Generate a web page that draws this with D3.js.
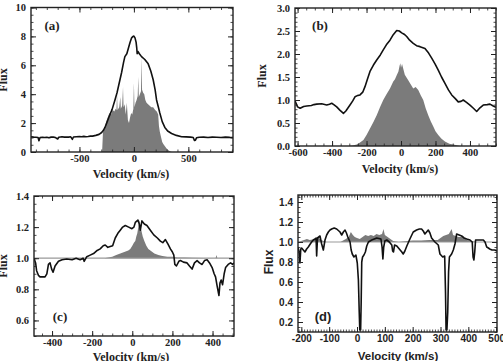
<!DOCTYPE html>
<html>
<head>
<meta charset="utf-8">
<script src="https://cdn.jsdelivr.net/npm/d3@7"></script>
<style>
body { margin: 0; background: #fff; }
svg { display: block; }
.serif text { font-family: "Liberation Serif", "Times New Roman", serif; font-weight: bold; }
.sans text { font-family: "Liberation Sans", Arial, sans-serif; font-weight: bold; }
</style>
</head>
<body>
<svg id="fig" width="503" height="361"></svg>
<script>
// (a) spectrum and model histogram, [velocity, flux]
const aLine = [[-945,1.05],[-920,1.03],[-900,1.02],[-880,1.0],[-872,0.78],[-862,1.0],[-840,1.02],[-820,1.0],[-800,1.02],[-780,0.98],[-760,1.03],[-740,1.03],[-720,1.0],[-700,0.9],[-690,1.02],[-660,1.05],[-640,1.03],[-620,1.04],[-600,1.03],[-580,1.05],[-565,0.88],[-555,1.04],[-530,1.06],[-500,1.07],[-480,1.06],[-460,1.08],[-440,1.06],[-420,1.07],[-400,1.1],[-380,1.1],[-350,1.15],[-320,1.22],[-296,1.35],[-280,1.5],[-266,1.7],[-250,2.0],[-230,2.4],[-200,2.95],[-174,3.6],[-155,4.1],[-140,4.6],[-113,5.5],[-95,6.2],[-83,6.6],[-65,6.8],[-50,7.2],[-35,7.6],[-21,7.9],[-8,8.0],[0,8.02],[10,7.9],[20,7.6],[26,7.2],[30,6.8],[38,6.95],[50,6.8],[70,6.6],[100,6.4],[131,6.1],[155,5.6],[177,5.0],[195,4.3],[208,3.6],[225,3.1],[238,2.7],[260,2.1],[284,1.7],[310,1.45],[346,1.28],[390,1.15],[438,1.06],[480,1.05],[520,1.03],[545,1.0],[556,0.8],[565,0.82],[575,0.98],[600,1.02],[640,1.03],[680,1.0],[720,1.03],[760,1.02],[800,1.0],[840,1.03],[880,1.01],[910,1.0]];
const aHist = [[-292,0],[-284,1.4],[-270,1.6],[-255,2.1],[-240,2.4],[-225,2.7],[-210,2.6],[-195,2.9],[-180,2.8],[-168,3.0],[-160,2.9],[-155,4.0],[-150,2.9],[-135,3.1],[-125,3.8],[-120,3.0],[-108,3.2],[-100,4.5],[-95,3.1],[-85,3.3],[-75,2.6],[-65,3.4],[-55,2.2],[-45,2.0],[-35,2.4],[-25,2.7],[-15,2.6],[-5,3.0],[0,4.8],[5,3.1],[15,3.4],[25,3.6],[35,3.9],[40,5.2],[45,3.8],[55,4.0],[65,4.2],[70,6.6],[75,4.3],[85,4.1],[95,4.0],[105,3.6],[116,3.4],[130,3.3],[145,3.2],[160,3.1],[177,3.1],[195,2.9],[210,2.8],[223,2.6],[230,1.8],[238,1.4],[250,1.0],[260,0.7],[270,0.55],[285,0.4],[300,0.25],[320,0.1],[340,0.02],[350,0]];

// (b)
const bLine = [[-615,0.98],[-600,0.85],[-585,0.82],[-565,0.86],[-547,0.87],[-520,0.88],[-505,0.9],[-489,0.91],[-460,0.92],[-431,0.89],[-415,0.91],[-402,0.93],[-390,0.9],[-373,0.85],[-355,0.78],[-334,0.71],[-320,0.76],[-296,0.89],[-280,0.98],[-267,1.07],[-250,1.1],[-238,1.11],[-222,1.17],[-209,1.29],[-195,1.45],[-180,1.62],[-160,1.76],[-141,1.87],[-120,1.98],[-103,2.09],[-85,2.2],[-64,2.3],[-45,2.42],[-25,2.51],[-10,2.5],[4,2.46],[18,2.43],[33,2.38],[50,2.3],[71,2.23],[90,2.18],[110,2.16],[139,2.12],[160,2.02],[178,1.91],[198,1.78],[216,1.65],[235,1.5],[255,1.36],[275,1.22],[294,1.11],[315,1.03],[332,0.96],[348,0.97],[361,1.0],[380,0.95],[400,0.89],[420,0.82],[439,0.75],[458,0.83],[477,0.89],[500,0.9],[516,0.91],[535,0.87],[551,0.84]];
const bHist = [[-300,0],[-280,0.01],[-257,0.03],[-240,0.07],[-218,0.13],[-200,0.24],[-180,0.38],[-160,0.52],[-141,0.67],[-122,0.84],[-103,1.0],[-85,1.12],[-64,1.25],[-45,1.4],[-35,1.45],[-25,1.54],[-15,1.62],[-8,1.75],[-4,1.8],[0,1.7],[6,1.78],[13,1.68],[22,1.55],[30,1.5],[42,1.43],[55,1.35],[71,1.25],[85,1.28],[100,1.22],[115,1.1],[129,1.0],[143,0.82],[158,0.67],[173,0.53],[188,0.42],[200,0.32],[216,0.24],[235,0.16],[255,0.1],[280,0.05],[304,0.03],[342,0]];

// (c)
const cLine = [[-490,1.0],[-482,0.97],[-477,0.92],[-468,0.89],[-460,0.88],[-448,0.88],[-435,0.88],[-426,0.9],[-418,0.96],[-410,0.97],[-402,0.93],[-395,0.91],[-385,0.95],[-368,0.98],[-350,0.99],[-327,0.995],[-300,0.99],[-280,1.0],[-260,0.99],[-245,1.0],[-240,0.98],[-227,1.01],[-210,1.02],[-193,1.03],[-175,1.05],[-160,1.06],[-145,1.08],[-135,1.085],[-122,1.07],[-110,1.075],[-98,1.08],[-85,1.13],[-72,1.16],[-60,1.18],[-48,1.2],[-35,1.21],[-18,1.2],[-2,1.19],[8,1.2],[15,1.23],[28,1.245],[35,1.22],[40,1.18],[48,1.24],[60,1.22],[73,1.21],[90,1.18],[107,1.15],[125,1.13],[140,1.11],[152,1.1],[165,1.12],[178,1.09],[190,1.06],[200,1.04],[207,1.02],[212,0.96],[220,0.95],[232,0.98],[240,0.985],[255,0.975],[273,0.97],[285,0.95],[298,0.93],[310,0.97],[323,0.985],[335,0.97],[348,0.96],[360,0.985],[373,0.99],[385,0.97],[398,0.94],[408,0.9],[415,0.88],[423,0.82],[432,0.76],[437,0.84],[443,0.86],[450,0.83],[458,0.9],[465,0.94],[478,0.96],[490,0.97],[500,0.96],[507,0.97]];
const cHist = [[-140,1.0],[-120,1.005],[-100,1.01],[-80,1.02],[-60,1.03],[-40,1.04],[-20,1.05],[-10,1.06],[0,1.08],[8,1.1],[15,1.11],[20,1.14],[25,1.16],[30,1.2],[35,1.245],[40,1.2],[45,1.18],[52,1.14],[60,1.11],[70,1.08],[80,1.06],[95,1.045],[110,1.03],[130,1.02],[150,1.015],[175,1.01],[200,1.01],[225,1.005],[260,1.005],[300,1.003],[415,1.0],[420,1.02],[424,1.0],[460,1.0]];

// (d)
const dLine = [[-212,0.95],[-208,0.9],[-205,0.79],[-202,0.93],[-199,0.94],[-193,0.92],[-187,0.9],[-181,0.93],[-175,0.95],[-168,0.98],[-163,1.0],[-157,1.02],[-151,1.03],[-147,1.04],[-145,0.86],[-142,1.04],[-133,1.06],[-127,0.98],[-121,0.92],[-115,1.02],[-109,1.07],[-103,1.1],[-97,1.12],[-91,1.13],[-82,1.14],[-73,1.13],[-65,1.11],[-61,1.1],[-55,1.07],[-49,1.1],[-43,1.12],[-38,1.09],[-33,1.05],[-25,1.0],[-21,0.92],[-17,0.88],[-11,0.85],[-4,0.87],[1,0.79],[5,0.62],[8,0.3],[10,0.12],[13,0.12],[15,0.4],[17,0.8],[20,0.85],[25,0.87],[30,0.9],[35,0.96],[41,1.0],[53,1.02],[71,1.04],[86,1.03],[90,0.95],[93,0.83],[96,0.95],[100,1.01],[107,1.02],[116,1.0],[125,0.97],[128,0.91],[131,0.9],[135,0.97],[143,0.96],[152,0.93],[161,0.9],[166,0.88],[172,0.91],[179,0.96],[190,1.03],[202,1.1],[214,1.12],[224,1.13],[232,1.13],[238,1.11],[244,1.08],[250,1.1],[256,1.12],[262,1.09],[268,1.04],[280,1.0],[292,0.97],[298,0.88],[308,0.85],[315,0.86],[318,0.5],[320,0.12],[323,0.12],[326,0.3],[329,0.7],[332,0.85],[340,0.88],[346,0.92],[352,0.98],[358,1.08],[367,1.07],[376,1.06],[385,1.04],[394,1.03],[406,1.02],[414,1.0],[417,0.85],[420,0.82],[423,0.9],[426,1.02],[440,1.02],[454,1.02],[460,1.0],[466,0.95],[472,0.94],[477,0.93],[485,0.92],[495,0.92],[503,0.91]];
const dHist = [[-212,1.0],[-190,1.02],[-180,1.03],[-170,1.02],[-150,1.03],[-140,1.05],[-130,1.02],[-110,1.0],[-60,1.0],[-40,1.03],[-30,1.05],[-22,1.1],[-15,1.07],[-8,1.05],[0,1.04],[10,1.03],[20,1.05],[30,1.07],[40,1.06],[50,1.07],[60,1.06],[70,1.08],[80,1.07],[90,1.08],[95,1.13],[100,1.07],[110,1.05],[120,1.03],[130,1.01],[150,1.0],[180,1.01],[200,1.015],[230,1.015],[260,1.02],[290,1.02],[300,1.04],[310,1.06],[320,1.07],[330,1.08],[340,1.13],[345,1.07],[355,1.06],[365,1.05],[375,1.05],[385,1.04],[395,1.02],[410,1.01],[430,1.0],[503,1.0]];

// tick labels
const aXTicks = [-500, 0, 500], aYTicks = [0, 2, 4, 6, 8, 10];
const bXTicks = [-600, -400, -200, 0, 200, 400], bYTicks = [0, 0.5, 1, 1.5, 2, 2.5, 3];
const cXTicks = [-400, -200, 0, 200, 400], cYTicks = [0.6, 0.8, 1.0, 1.2, 1.4];
const dXTicks = [-200, -100, 0, 100, 200, 300, 400, 500], dYTicks = [0.2, 0.4, 0.6, 0.8, 1.0, 1.2, 1.4];

const svg = d3.select('#fig')
const grey = '#7b7b7b'

const panels = [
	{ name: '(a)', line: aLine, hist: aHist, base: 0, xd: [-945, 910], yd: [0, 10], box: [31, 7.5, 233, 152],
		xt: aXTicks, yt: aYTicks, xm: 100, ym: 0.5, yf: d3.format('d'), font: 'serif', lab: [52, 30], flux: [7, 80], vel: [131, 178] },
	{ name: '(b)', line: bLine, hist: bHist, base: 0, xd: [-615, 551], yd: [0, 3], box: [295, 8, 496, 146],
		xt: bXTicks, yt: bYTicks, xm: 50, ym: 0.1, yf: d3.format('.1f'), font: 'serif', lab: [320, 30], flux: [266, 76], vel: [400, 173] },
	{ name: '(c)', line: cLine, hist: cHist, base: 1, xd: [-490, 507], yd: [0.5, 1.4], box: [34, 196, 234, 336],
		xt: cXTicks, yt: cYTicks, xm: 50, ym: 0.05, yf: d3.format('.1f'), font: 'serif', lab: [60, 321], flux: [7, 266], vel: [131, 361] },
	{ name: '(d)', line: dLine, hist: dHist, base: 1, xd: [-212, 503], yd: [0.1, 1.47], box: [298, 195, 497, 332],
		xt: dXTicks, yt: dYTicks, xm: 10, ym: 0.05, yf: d3.format('.1f'), font: 'sans', lab: [323, 321], flux: [273, 262], vel: [398, 360] },
]

function ticks(lo, hi, step) {
	return d3.range(Math.ceil(lo / step - 1e-9), Math.floor(hi / step + 1e-9) + 1).map(i => +(i * step).toFixed(4))
}

function drawPanel(p, i) {
	const [x0, y0, x1, y1] = p.box
	const x = d3.scaleLinear().domain(p.xd).range([x0, x1])
	const y = d3.scaleLinear().domain(p.yd).range([y1, y0])
	const g = svg.append('g').attr('class', p.font)

	g.append('clipPath').attr('id', 'clip' + i)
		.append('rect').attr('x', x0).attr('y', y0).attr('width', x1 - x0).attr('height', y1 - y0)
	const plot = g.append('g').attr('clip-path', `url(#clip${i})`)

	plot.append('path')
		.datum(p.hist)
		.attr('fill', grey)
		.attr('d', d3.area().x(d => x(d[0])).y0(y(p.base)).y1(d => y(d[1])))

	if (p.base === 1) {
		plot.append('line')
			.attr('x1', x0).attr('x2', x1).attr('y1', y(1)).attr('y2', y(1))
			.attr('stroke', '#999').attr('stroke-width', 1.2)
	}

	plot.append('path')
		.datum(p.line)
		.attr('fill', 'none')
		.attr('stroke', '#111')
		.attr('stroke-width', 1.6)
		.attr('stroke-linejoin', 'round')
		.attr('d', d3.line().x(d => x(d[0])).y(d => y(d[1])))

	const xMinor = ticks(p.xd[0], p.xd[1], p.xm)
	const yMinor = ticks(p.yd[0], p.yd[1], p.ym)
	const fmtX = d => String(d)
	const axes = [
		[d3.axisBottom(x).tickValues(p.xt).tickFormat(fmtX).tickPadding(3), `translate(0,${y1})`, d3.axisBottom(x).tickValues(xMinor)],
		[d3.axisTop(x).tickValues(p.xt).tickFormat(''), `translate(0,${y0})`, d3.axisTop(x).tickValues(xMinor)],
		[d3.axisLeft(y).tickValues(p.yt).tickFormat(p.yf).tickPadding(5), `translate(${x0},0)`, d3.axisLeft(y).tickValues(yMinor)],
		[d3.axisRight(y).tickValues(p.yt).tickFormat(''), `translate(${x1},0)`, d3.axisRight(y).tickValues(yMinor)],
	]
	axes.forEach(([major, tr, minor]) => {
		const gm = g.append('g').attr('transform', tr)
			.call(minor.tickSize(-2.5).tickFormat(''))
		gm.select('.domain').remove()
		const ga = g.append('g').attr('transform', tr)
			.call(major.tickSize(-5))
		ga.select('.domain').remove()
		ga.selectAll('line').attr('stroke', '#222').attr('stroke-width', 1)
		gm.selectAll('line').attr('stroke', '#222').attr('stroke-width', 0.8)
		ga.selectAll('text').attr('fill', '#222').style('font-size', p.font === 'sans' ? '10px' : '10.5px')
	})

	g.append('rect')
		.attr('x', x0).attr('y', y0).attr('width', x1 - x0).attr('height', y1 - y0)
		.attr('fill', 'none').attr('stroke', '#222').attr('stroke-width', 1.4)

	g.append('text')
		.attr('x', p.lab[0]).attr('y', p.lab[1])
		.attr('text-anchor', 'middle')
		.style('font-size', '13px').attr('fill', '#222')
		.text(p.name)

	g.append('text')
		.attr('transform', `translate(${p.flux[0]},${p.flux[1]}) rotate(-90)`)
		.attr('text-anchor', 'middle')
		.style('font-size', '12px').attr('fill', '#222')
		.text('Flux')

	g.append('text')
		.attr('x', p.vel[0]).attr('y', p.vel[1])
		.attr('text-anchor', 'middle')
		.style('font-size', p.font === 'sans' ? '11.5px' : '12px').attr('fill', '#222')
		.text('Velocity (km/s)')
}

panels.forEach(drawPanel)
</script>
</body>
</html>
